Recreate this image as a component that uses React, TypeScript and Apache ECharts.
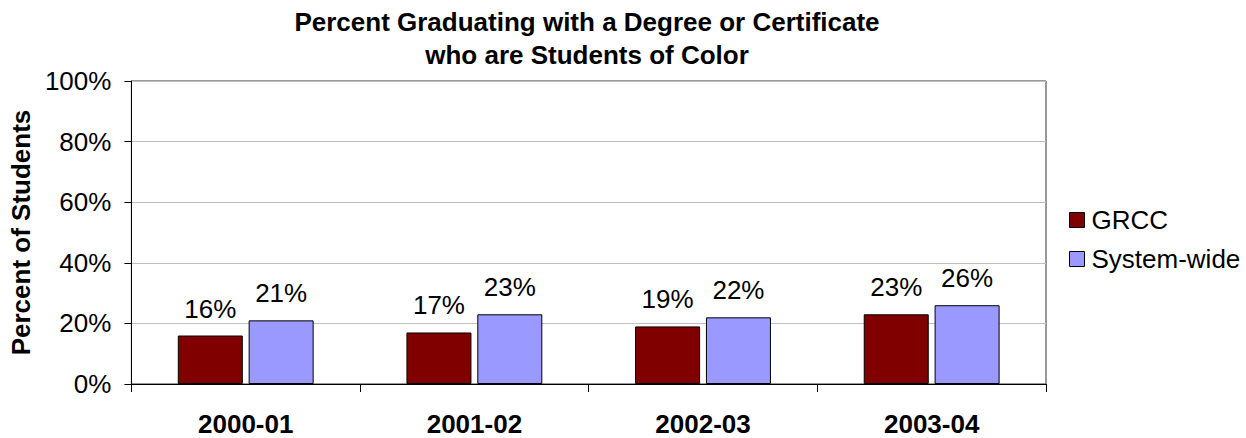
import React, { useEffect, useRef } from "react";
import * as echarts from "echarts";

const categories = ["2000-01", "2001-02", "2002-03", "2003-04"];
const grccValues = [16, 17, 19, 23];
const systemValues = [21, 23, 22, 26];
const seriesNames = ["GRCC", "System-wide"];
const titleLines = ["Percent Graduating with a Degree or Certificate", "who are Students of Color"];
const yAxisName = "Percent of Students";

const FONT = "'Liberation Sans', Arial, Helvetica, sans-serif";

export default function App() {
  const ref = useRef<HTMLDivElement>(null);
  useEffect(() => {
    if (!ref.current) return;
    const chart = echarts.init(ref.current, undefined, { renderer: "svg" });
    const labelStyle = {
      show: true,
      position: "top" as const,
      distance: 14,
      formatter: (p: any) => p.value + "%",
      color: "#000",
      fontFamily: FONT,
      fontSize: 26,
    };
    chart.setOption({
      animation: false,
      backgroundColor: "#fff",
      textStyle: { fontFamily: FONT },
      graphic: [
        {
          type: "text",
          x: 587,
          y: 5,
          style: {
            text: titleLines.join("\n"),
            textAlign: "center",
            textVerticalAlign: "top",
            fontFamily: FONT,
            fontWeight: "bold",
            fontSize: 26,
            lineHeight: 33,
            fill: "#000",
          },
        },
      ],
      grid: {
        left: 120,
        right: 200,
        top: 81,
        bottom: 54,
        show: true,
        borderColor: "#333",
        borderWidth: 1,
        containLabel: false,
      },
      legend: {
        orient: "vertical",
        left: 1064,
        top: 202,
        itemWidth: 15,
        itemHeight: 15,
        itemGap: 13,
        icon: "rect",
        itemStyle: { borderColor: "#000", borderWidth: 1 },
        textStyle: { fontFamily: FONT, fontSize: 26, color: "#000", padding: [0, 0, 0, 2] },
        data: seriesNames,
      },
      xAxis: {
        type: "category",
        data: categories,
        axisLine: { lineStyle: { color: "#000", width: 1 } },
        axisTick: { show: true, length: 8, lineStyle: { color: "#000" } },
        axisLabel: {
          color: "#000",
          fontFamily: FONT,
          fontWeight: "bold",
          fontSize: 26,
          margin: 27,
        },
        splitLine: { show: false },
      },
      yAxis: {
        type: "value",
        min: 0,
        max: 100,
        interval: 20,
        name: yAxisName,
        nameLocation: "middle",
        nameGap: 84,
        nameTextStyle: { color: "#000", fontFamily: FONT, fontWeight: "bold", fontSize: 26 },
        axisLine: { show: true, lineStyle: { color: "#000", width: 1 } },
        axisTick: { show: true, length: 7, lineStyle: { color: "#000" } },
        axisLabel: {
          color: "#000",
          fontFamily: FONT,
          fontSize: 26,
          margin: 20,
          formatter: (v: number) => v + "%",
        },
        splitLine: { show: true, lineStyle: { color: "#c0c0c0", width: 1 } },
      },
      series: [
        {
          name: seriesNames[0],
          type: "bar",
          data: grccValues,
          barWidth: 65,
          barGap: "9%",
          itemStyle: { color: "#800000", borderColor: "#000", borderWidth: 1 },
          label: labelStyle,
        },
        {
          name: seriesNames[1],
          type: "bar",
          data: systemValues,
          barWidth: 65,
          itemStyle: { color: "#9999ff", borderColor: "#000", borderWidth: 1 },
          label: labelStyle,
        },
      ],
    });
    return () => chart.dispose();
  }, []);
  return (
    <div
      ref={ref}
      style={{ position: "fixed", left: 0, top: 0, width: 1246, height: 438, background: "#fff" }}
    />
  );
}
